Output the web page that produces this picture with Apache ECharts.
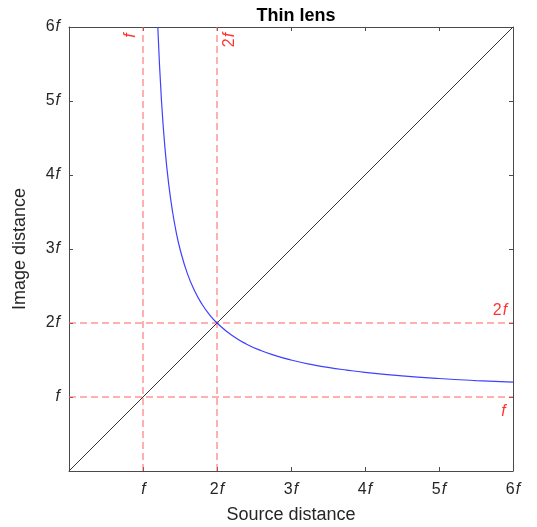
<!DOCTYPE html>
<html><head><meta charset="utf-8">
<script src="https://cdn.jsdelivr.net/npm/echarts@6/dist/echarts.min.js"></script>
<style>html,body{margin:0;padding:0;background:#fff}#c{width:537px;height:527px}</style>
</head><body><div id="c"></div>
<script>
// Data (units of f)
var sourceDist = [1.2,1.25,1.3,1.35,1.4,1.45,1.5,1.6,1.7,1.8,1.9,2,2.2,2.4,2.6,2.8,3,3.25,3.5,3.75,4,4.5,5,5.5,6];
var imageDist  = [6,5,4.33,3.857,3.5,3.222,3,2.667,2.429,2.25,2.111,2,1.833,1.714,1.625,1.556,1.5,1.444,1.4,1.364,1.333,1.286,1.25,1.222,1.2];
var diagX = [0,6];
var diagY = [0,6];
var tickLabels = ['', 'f', '2f', '3f', '4f', '5f', '6f'];
var refValues = [1, 2];
var refLabels = ['f', '2f'];
var axisMin = 0, axisMax = 6;

function rich(s){
  if(!s) return '';
  var m = s.match(/^(\d*)f$/);
  return (m[1] ? '{n|' + m[1] + '}' : '') + '{i|f}';
}
var FONT = 'Liberation Sans, Arial, Helvetica, sans-serif';
var AX = '#4a4a4a';
var TXT = '#262626';
var RED = '#ff0000';
var tickRich = {
  n:{fontFamily:FONT,fontSize:16,color:TXT},
  i:{fontFamily:FONT,fontSize:16,fontStyle:'italic',color:TXT,padding:[0,0,0,1]}
};
var redRich = {
  n:{fontFamily:FONT,fontSize:16,color:RED},
  i:{fontFamily:FONT,fontSize:16,fontStyle:'italic',color:RED,padding:[0,0,0,1]}
};
var curve = sourceDist.map(function(u,k){return [u, imageDist[k]];});
var diag = diagX.map(function(x,k){return [x, diagY[k]];});

function axisCommon(show){
  return {
    type:'value', min:axisMin, max:axisMax, interval:1,
    axisLine:{show:true,onZero:false,lineStyle:{color:AX,width:1}},
    axisTick:{show:true,inside:true,length:4,lineStyle:{color:AX}},
    splitLine:{show:false},
    axisLabel:{show:show, formatter:function(v){return rich(tickLabels[Math.round(v)]);}, rich:tickRich, margin:9}
  };
}
var xb = axisCommon(true); xb.position='bottom';
xb.axisLabel.margin = 11;
xb.name='Source distance'; xb.nameLocation='middle'; xb.nameGap=35;
xb.nameTextStyle={fontFamily:FONT,fontSize:18,color:TXT};
var xt = axisCommon(false); xt.position='top';
var yl = axisCommon(true); yl.position='left';
yl.name='Image distance'; yl.nameLocation='middle'; yl.nameGap=40;
yl.nameTextStyle={fontFamily:FONT,fontSize:18,color:TXT};
var yr = axisCommon(false); yr.position='right';

var series = [
  {type:'line', data:diag, symbol:'none', lineStyle:{color:'#333',width:1}, z:3},
  {type:'line', data:curve, symbol:'none', smooth:true, lineStyle:{color:'#4040ff',width:1.2}, z:4}
];
// dashed reference lines
refValues.forEach(function(v){
  series.push({type:'line', symbol:'none', z:2, silent:true,
    data:[[v,axisMin],[v,axisMax]], lineStyle:{color:'#ff6060',type:[7,4],width:1}});
  series.push({type:'line', symbol:'none', z:2, silent:true,
    data:[[axisMin,v],[axisMax,v]], lineStyle:{color:'#ff6060',type:[7,4],width:1}});
});
// labels for reference lines
var vOff = [[-9,-12],[-13,13]];
var hOff = [[-10,15],[-13,-12]];
var labelPts = [];
refValues.forEach(function(v,k){
  labelPts.push({value:[v,axisMax], label:{show:true, position:'inside', rotate:90, offset:vOff[k],
    formatter:rich(refLabels[k]), rich:redRich}});
  labelPts.push({value:[axisMax,v], label:{show:true, position:'inside', offset:hOff[k],
    formatter:rich(refLabels[k]), rich:redRich}});
});
series.push({type:'scatter', symbolSize:0, silent:true, z:5, data:labelPts, itemStyle:{color:'transparent'}});

var chart = echarts.init(document.getElementById('c'), null, {renderer:'canvas'});
chart.setOption({
  animation:false,
  title:{text:'Thin lens', left:291, top:2, textAlign:'center',
    textStyle:{fontFamily:FONT,fontSize:18,fontWeight:'bold',color:'#000'}},
  grid:{left:69,right:24,top:27,bottom:56,containLabel:false,outerBoundsMode:'none'},
  xAxis:[xb, xt],
  yAxis:[yl, yr],
  series:series
});
</script></body></html>
